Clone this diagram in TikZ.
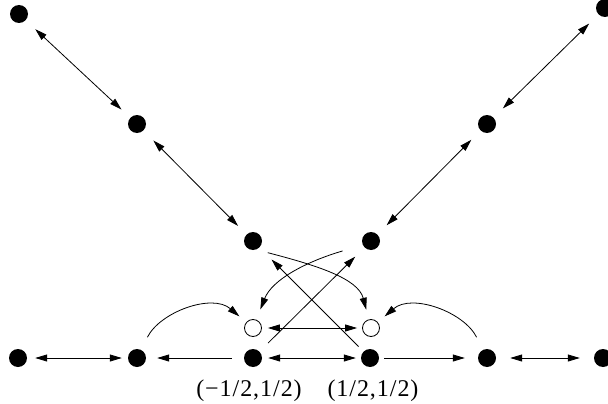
\documentclass[tikz,border=0pt]{standalone}
\usepackage{fontspec}
\setmainfont{Liberation Serif}
\usetikzlibrary{arrows.meta}
\begin{document}
\begin{tikzpicture}[x=1pt,y=-1pt,
  dot/.style={circle,fill=black,inner sep=0pt,minimum size=18pt},
  hole/.style={circle,draw=black,line width=0.8pt,fill=white,inner sep=0pt,minimum size=17pt},
  ln/.style={line width=0.8pt},
  >={Triangle[length=12pt,width=7pt]},
  lab/.style={anchor=base,inner sep=0pt,font=\fontsize{24}{28}\selectfont\addfontfeature{LetterSpace=4}}
]
\useasboundingbox (0,0) rectangle (608,404);
% dots
\node[dot] (A1) at (19,14) {};
\node[dot] (A2) at (137,124) {};
\node[dot] (A3) at (253,241) {};
\node[dot] (B1) at (605,8) {};
\node[dot] (B2) at (487,124) {};
\node[dot] (B3) at (371,241) {};
\node[dot] (R1) at (18,358) {};
\node[dot] (R2) at (137,358) {};
\node[dot] (R3) at (253,358) {};
\node[dot] (R4) at (370,358) {};
\node[dot] (R5) at (487,358) {};
\node[dot] (R6) at (603,358) {};
\node[hole] (O1) at (253,328) {};
\node[hole] (O2) at (371,328) {};
% labels
\node[lab] (L1) at (249,396) {(−1/2,1/2)};
\node[lab] (L2) at (373,396) {(1/2,1/2)};
% diagonals
\draw[ln,<->,shorten <=13pt,shorten >=12pt] (A1) -- (A2);
\draw[ln,<->,shorten <=14pt,shorten >=12pt] (A2) -- (A3);
\draw[ln,<->,shorten <=13pt,shorten >=13pt] (B1) -- (B2);
\draw[ln,<->,shorten <=13pt,shorten >=13pt] (B2) -- (B3);
% bottom row
\draw[ln,<->,shorten <=8pt,shorten >=6pt] (R1) -- (R2);
\draw[ln,->,shorten <=12pt,shorten >=11pt] (R3) -- (R2);
\draw[ln,<->,shorten <=6pt,shorten >=5pt] (R3) -- (R4);
\draw[ln,->,shorten <=5pt,shorten >=13pt] (R4) -- (R5);
\draw[ln,<->,shorten <=14pt,shorten >=14pt] (R5) -- (R6);
% open circles
\draw[ln,<->,shorten <=6pt,shorten >=5pt] (O1) -- (O2);
% crossing lines
\draw[ln,->,shorten <=12pt,shorten >=13pt] (R3) -- (B3);
\draw[ln,->,shorten <=7pt,shorten >=17pt] (R4) -- (A3);
% curves
\draw[ln,->,shorten <=14pt,shorten >=9pt] (R2) .. controls (160,312) and (212,293) .. (O1);
\draw[ln,->,shorten <=14pt,shorten >=9pt] (R5) .. controls (464,312) and (412,293) .. (O2);
\draw[ln,->,shorten <=12pt,shorten >=10pt] (A3.-70) .. controls (315,265) and (358,278) .. (O2);
\draw[ln,->,shorten <=21pt,shorten >=11pt] (B3.206) .. controls (305,262) and (272,280) .. (O1);
\end{tikzpicture}
\end{document}
